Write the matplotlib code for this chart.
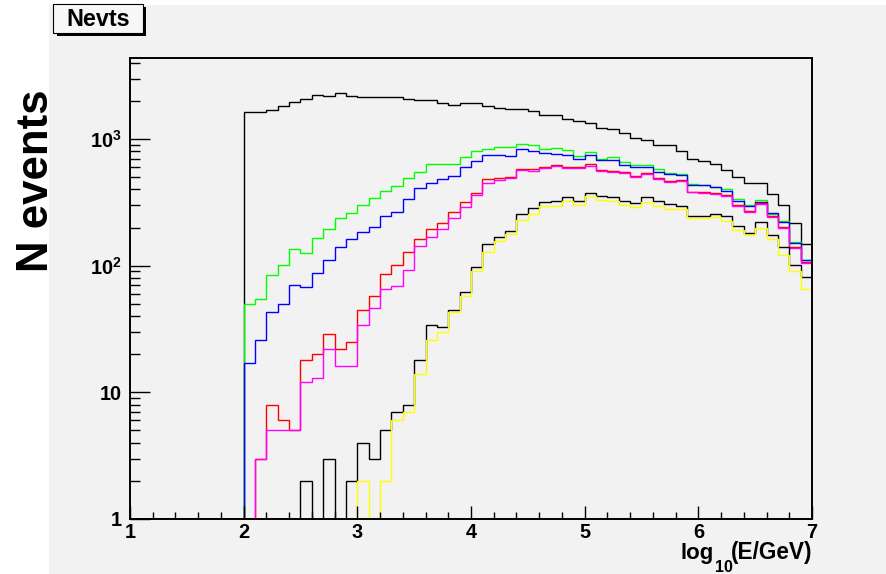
import numpy as np
import matplotlib
matplotlib.use('Agg')
import matplotlib.pyplot as plt
from matplotlib.patches import Rectangle

plt.rcParams['font.family'] = ['Liberation Sans', 'DejaVu Sans']
plt.rcParams['font.weight'] = 'bold'
plt.rcParams['mathtext.fontset'] = 'custom'
plt.rcParams['mathtext.bf'] = 'Liberation Sans:bold'
plt.rcParams['mathtext.rm'] = 'Liberation Sans:bold'
plt.rcParams['mathtext.default'] = 'bf'

# bins 1.0 .. 7.0, width 0.1
edges = np.linspace(1, 7, 61)

total = [0]*10 + [1650, 1650, 1700, 1810, 1960, 2090, 2240, 2170, 2310, 2170,
                  2150, 2140, 2140, 2130, 2080, 2020, 2020, 1920, 1860, 1940,
                  1920, 1840, 1770, 1720, 1720, 1670, 1560, 1540, 1430, 1390,
                  1340, 1230, 1200, 1110, 1020, 980, 895, 895, 807, 702,
                  673, 640, 571, 506, 453, 448, 371, 300, 219, 148]
green = [0]*10 + [50, 55, 85, 102, 135, 126, 165, 194, 240, 260,
                  300, 341, 392, 424, 494, 550, 637, 637, 637, 719,
                  811, 841, 863, 863, 912, 900, 841, 847, 822, 736,
                  792, 702, 727, 657, 622, 622, 578, 544, 531, 442,
                  437, 417, 402, 339, 300, 331, 256, 224, 154, 110]
blue = [0]*10 + [17, 26, 43, 50, 71, 68, 88, 110, 141, 162,
                 183, 201, 248, 267, 335, 414, 448, 482, 512, 600,
                 669, 750, 745, 740, 832, 802, 782, 763, 746, 693,
                 750, 681, 685, 626, 600, 600, 554, 528, 518, 435,
                 432, 417, 392, 323, 296, 321, 262, 223, 152, 110]
red = [0]*11 + [3, 8, 6, 5, 18, 20, 29, 22, 25,
                45, 58, 86, 101, 128, 163, 195, 219, 267, 321,
                378, 482, 494, 506, 585, 578, 600, 626, 600, 600,
                633, 571, 561, 547, 512, 537, 494, 465, 476, 385,
                380, 374, 364, 302, 272, 311, 248, 202, 141, 106]
magenta = [0]*11 + [3, 5, 5, 5, 12, 13, 22, 16, 16,
                    34, 46, 66, 69, 92, 143, 168, 195, 237, 290,
                    362, 453, 476, 490, 571, 564, 586, 612, 588, 586,
                    618, 560, 550, 538, 506, 528, 483, 458, 465, 380,
                    376, 368, 355, 296, 267, 305, 244, 199, 139, 105]
black2 = [0]*15 + [2, 0, 3, 0, 2,
                   4, 3, 5, 7, 8, 18, 34, 33, 45, 62,
                   98, 148, 170, 188, 256, 287, 319, 325, 347, 326,
                   378, 352, 350, 326, 311, 350, 326, 308, 296, 247,
                   248, 255, 247, 207, 182, 223, 175, 140, 101, 82]
yellow = [0]*20 + [2, 0, 2, 6, 7, 14, 26, 30, 43, 58,
                   91, 129, 158, 178, 230, 256, 296, 296, 326, 302,
                   356, 331, 326, 302, 290, 317, 296, 282, 282, 237,
                   240, 241, 224, 191, 175, 200, 162, 122, 91, 65]

series = [total, green, blue, red, magenta, black2, yellow]
colors = ['black', '#00ff00', '#0000ff', '#ff0000', '#ff00ff', 'black', '#ffff00']

W, H = 887, 574
fig = plt.figure(figsize=(W/100, H/100), dpi=100, facecolor='white')
# grey canvas
fig.patches.append(Rectangle((49/W, 0), 1 - 49/W, 1 - 5/H, transform=fig.transFigure,
                             facecolor='#f2f2f2', edgecolor='none', zorder=-10))

ax = fig.add_axes([130/W, 1 - 519/H, (812-130)/W, (519-58)/H])
ax.set_facecolor('#f2f2f2')

for vals, c in zip(series, colors):
    ax.stairs(np.maximum(np.array(vals, dtype=float), 1), edges, baseline=None,
              color=c, lw=1.0)

ax.set_yscale('log')
ax.set_xlim(1, 7)
ax.set_ylim(1, 4365)

ax.set_xticks([1, 2, 3, 4, 5, 6, 7])
ax.set_xticklabels(['1', '2', '3', '4', '5', '6', '7'])
ax.set_xticks(np.arange(1, 7.01, 0.2), minor=True)
ax.set_yticks([1, 10, 100, 1000])
ax.set_yticklabels(['1', '10', r'$10^{2}$', r'$10^{3}$'])
ax.set_yticks([k*10**d for d in range(4) for k in range(2, 10) if k*10**d < 4365], minor=True)
ax.yaxis.set_minor_formatter(plt.NullFormatter())

ax.tick_params(axis='both', which='both', direction='in', colors='black', width=1.0,
               labelsize=14.3, top=False, right=False)
ax.tick_params(axis='x', which='major', length=9.5, pad=3)
ax.tick_params(axis='x', which='minor', length=4.8)
ax.tick_params(axis='y', which='major', length=14.5, pad=6)
ax.tick_params(axis='y', which='minor', length=7.2)
for s in ax.spines.values():
    s.set_linewidth(1.4)
    s.set_color('black')

# title box with shadow
fig.patches.append(Rectangle((57/W, 1 - 36/H), 89/W, 29/H, transform=fig.transFigure,
                             facecolor='black', edgecolor='none', zorder=5))
fig.patches.append(Rectangle((53/W, 1 - 33/H), 90/W, 29/H, transform=fig.transFigure,
                             facecolor='#f7f7f7', edgecolor='black', lw=0.8, zorder=6))
fig.text(98/W, 1 - 19/H, 'Nevts', ha='center', va='center', fontsize=16.8,
         fontweight='bold', zorder=7)

fig.text(37/W, 1 - 181/H, 'N events', rotation=90, ha='center', va='center',
         fontsize=31.5, fontweight='bold')

# x title: log_10(E/GeV) with a low, large subscript as in ROOT
fig.text(681/W, 1 - 559/H, 'log', ha='left', va='baseline', fontsize=16, fontweight='bold')
fig.text(715/W, 1 - 572/H, '10', ha='left', va='baseline', fontsize=11.5, fontweight='bold')
fig.text(731/W, 1 - 559/H, '(E/GeV)', ha='left', va='baseline', fontsize=16.3, fontweight='bold')

plt.savefig('out.png', dpi=100, facecolor=fig.get_facecolor())
